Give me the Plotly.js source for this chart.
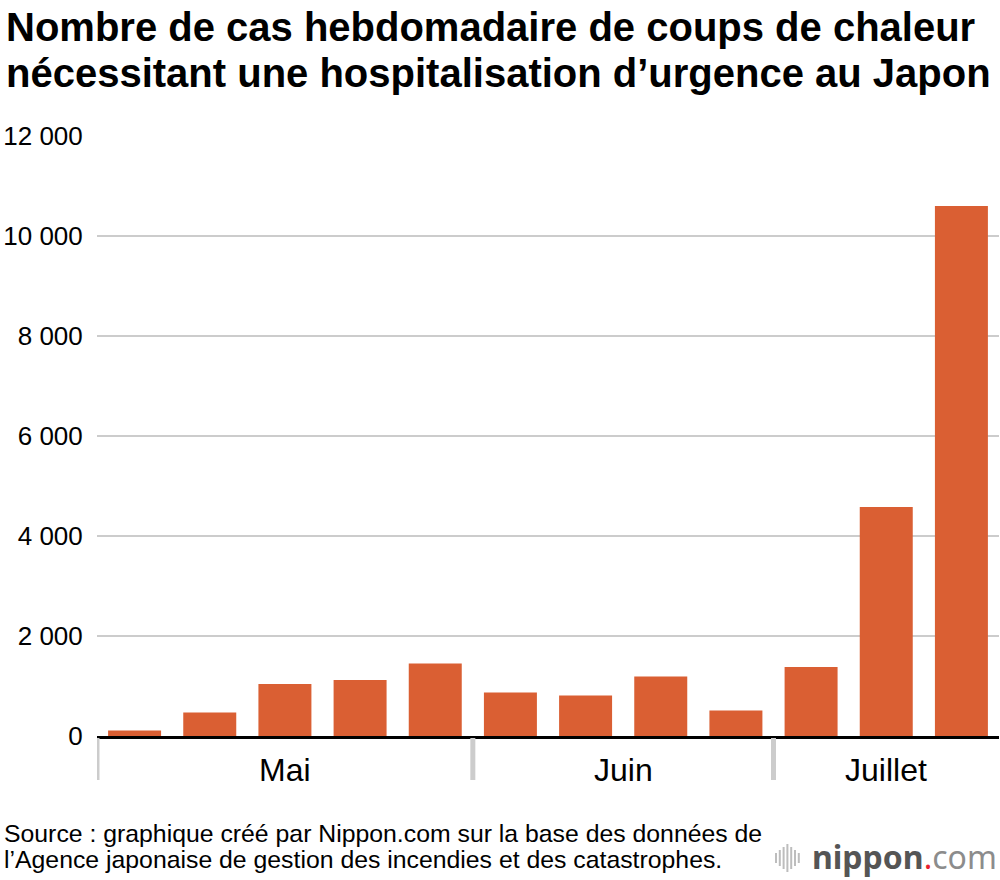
<!DOCTYPE html>
<html>
<head>
<meta charset="utf-8">
<script src="https://cdn.plot.ly/plotly-3.0.1.min.js"></script>
<style>
  html, body { margin: 0; padding: 0; background: #fff; }
  #chart { width: 1000px; height: 880px; }
</style>
</head>
<body>
<div id="chart"></div>
<script>
// ---- Data ----
const weeks = ['S1', 'S2', 'S3', 'S4', 'S5', 'S6', 'S7', 'S8', 'S9', 'S10', 'S11', 'S12'];
const cases = [110, 470, 1040, 1120, 1450, 870, 810, 1190, 510, 1380, 4580, 10600];
const months = ['Mai', 'Juin', 'Juillet'];
const weeksPerMonth = [5, 4, 3];
const yTicks = [0, 2000, 4000, 6000, 8000, 10000, 12000];

const titleLines = [
  'Nombre de cas hebdomadaire de coups de chaleur',
  'nécessitant une hospitalisation d’urgence au Japon'
];
const sourceLines = [
  'Source : graphique créé par Nippon.com sur la base des données de',
  'l’Agence japonaise de gestion des incendies et des catastrophes.'
];

// ---- helpers: pixel -> paper (plot area is 97..999 x, 136..736 y) ----
const PL = 97, PW = 902, PT = 136, PH = 600;
const px2x = p => (p - PL) / PW;
const py2y = p => (PT + PH - p) / PH;

const FONT = 'Liberation Sans, Arial, Helvetica, sans-serif';
const annotations = [];
const shapes = [];

// Month labels and dividers, computed from the month groups
let start = 0;
months.forEach((m, i) => {
  const n = weeksPerMonth[i];
  annotations.push({
    x: start + (n - 1) / 2, xref: 'x',
    y: py2y(770), yref: 'paper',
    text: m, showarrow: false, xanchor: 'center', yanchor: 'middle',
    font: { family: FONT, size: 32, color: '#000' }
  });
  shapes.push({
    type: 'line', xref: 'x', yref: 'paper',
    x0: start - 0.5, x1: start - 0.5, y0: py2y(738), y1: py2y(780),
    line: { color: '#cccccc', width: 5 }
  });
  start += n;
});

// Title lines
const titleCenters = [27, 73];
titleLines.forEach((t, i) => {
  annotations.push({
    xref: 'paper', yref: 'paper', x: px2x(4), y: py2y(titleCenters[i]),
    xanchor: 'left', yanchor: 'middle', align: 'left',
    text: '<b>' + t + '</b>', showarrow: false,
    font: { family: FONT, size: 40, color: '#000' }
  });
});

// Source lines
const sourceCenters = [833, 860];
sourceLines.forEach((t, i) => {
  annotations.push({
    xref: 'paper', yref: 'paper', x: px2x(2), y: py2y(sourceCenters[i]),
    xanchor: 'left', yanchor: 'middle', align: 'left',
    text: t, showarrow: false,
    font: { family: FONT, size: 24.8, color: '#000' }
  });
});

// nippon.com logo text
annotations.push({
  xref: 'paper', yref: 'paper', x: px2x(999), y: py2y(856),
  xanchor: 'right', yanchor: 'middle', align: 'right',
  text: '<b>nippon</b><span style="color:#e8222e">.</span><span style="color:#8c8c8c">com</span>',
  showarrow: false,
  font: { family: 'Noto Sans, Open Sans, sans-serif', size: 32, color: '#555555' }
});

// logo sound-wave icon (decorative)
const iconHeights = [10, 16, 22, 28, 22, 16, 10];
iconHeights.forEach((h, i) => {
  const p = 776 + i * 3.8;
  const cy = 858;
  shapes.push({
    type: 'line', xref: 'paper', yref: 'paper',
    x0: px2x(p), x1: px2x(p),
    y0: py2y(cy - h / 2), y1: py2y(cy + h / 2),
    line: { color: '#bdbdbd', width: 2 }
  });
});

const trace = {
  type: 'bar',
  x: weeks,
  y: cases,
  marker: { color: '#da5f33', line: { width: 0 } },
  hoverinfo: 'y'
};

const layout = {
  width: 1000,
  height: 880,
  margin: { l: PL, r: 1000 - PL - PW, t: PT, b: 880 - PT - PH, pad: 0 },
  paper_bgcolor: '#ffffff',
  plot_bgcolor: '#ffffff',
  separators: ', ',
  showlegend: false,
  bargap: 0.295,
  xaxis: {
    type: 'category',
    range: [-0.5, 11.5],
    showticklabels: false,
    ticks: '',
    showgrid: false,
    zeroline: false,
    showline: true,
    linecolor: '#000000',
    linewidth: 2.5,
    fixedrange: true
  },
  yaxis: {
    range: [0, 12000],
    tickvals: yTicks,
    tickformat: ',d',
    ticks: 'outside',
    ticklen: 8,
    tickcolor: 'rgba(0,0,0,0)',
    showgrid: true,
    gridcolor: '#cccccc',
    gridwidth: 2,
    zeroline: false,
    showline: false,
    tickfont: { family: FONT, size: 26, color: '#000' },
    fixedrange: true
  },
  annotations: annotations,
  shapes: shapes
};

Plotly.newPlot('chart', [trace], layout, { displayModeBar: false, staticPlot: true });
</script>
</body>
</html>
